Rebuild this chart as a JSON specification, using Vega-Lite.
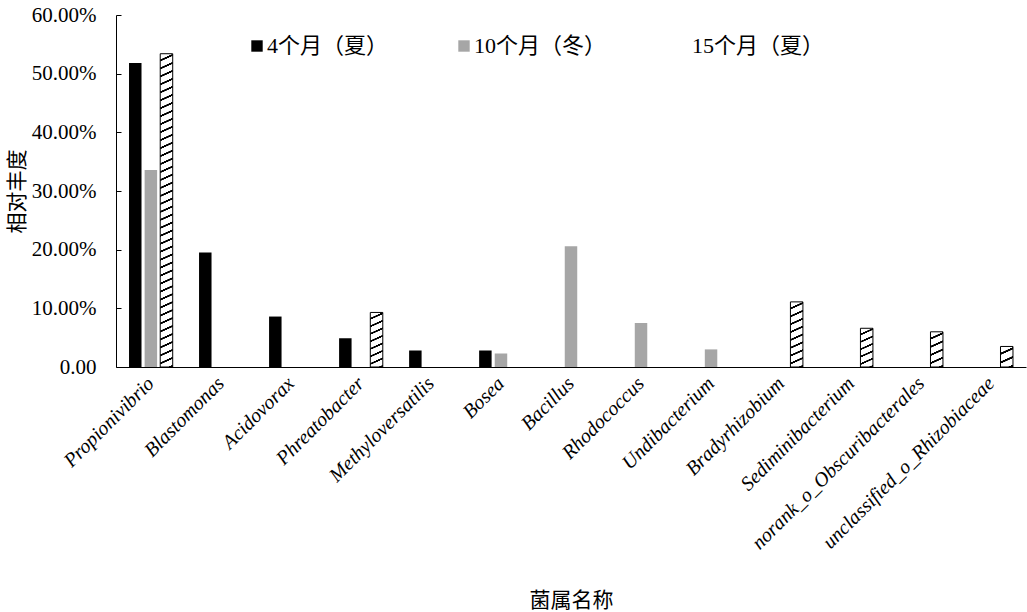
{
"$schema": "https://vega.github.io/schema/vega-lite/v6.json",
"width": 910,
"height": 352,
"autosize": {"type": "none"},
"padding": {"left": 116, "top": 15, "right": 1, "bottom": 245},
"background": "white",
"config": {"view": {"stroke": null}},
"data": {"values": [
{"genus":"Propionivibrio","series":"4个月（夏）","value":0.518},
{"genus":"Propionivibrio","series":"10个月（冬）","value":0.336},
{"genus":"Propionivibrio","series":"15个月（夏）","value":0.534},
{"genus":"Blastomonas","series":"4个月（夏）","value":0.195},
{"genus":"Acidovorax","series":"4个月（夏）","value":0.086},
{"genus":"Phreatobacter","series":"4个月（夏）","value":0.049},
{"genus":"Phreatobacter","series":"15个月（夏）","value":0.093},
{"genus":"Methyloversatilis","series":"4个月（夏）","value":0.028},
{"genus":"Bosea","series":"4个月（夏）","value":0.028},
{"genus":"Bosea","series":"10个月（冬）","value":0.023},
{"genus":"Bacillus","series":"10个月（冬）","value":0.206},
{"genus":"Rhodococcus","series":"10个月（冬）","value":0.075},
{"genus":"Undibacterium","series":"10个月（冬）","value":0.030},
{"genus":"Bradyrhizobium","series":"15个月（夏）","value":0.111},
{"genus":"Sediminibacterium","series":"15个月（夏）","value":0.066},
{"genus":"norank_o_Obscuribacterales","series":"15个月（夏）","value":0.060},
{"genus":"unclassified_o_Rhizobiaceae","series":"15个月（夏）","value":0.035}
]},
"mark": {"type": "bar", "strokeWidth": 1},
"encoding": {
"x": {"field": "genus", "type": "nominal",
 "scale": {"domain": ["Propionivibrio","Blastomonas","Acidovorax","Phreatobacter","Methyloversatilis","Bosea","Bacillus","Rhodococcus","Undibacterium","Bradyrhizobium","Sediminibacterium","norank_o_Obscuribacterales","unclassified_o_Rhizobiaceae"], "paddingInner": 0.376, "paddingOuter": 0.186},
 "axis": {"labelAngle": -45, "labelFont": "Liberation Serif", "labelFontStyle": "italic", "labelFontSize": 20, "labelColor": "#000", "labelLimit": 400, "labelPadding": 6, "labelOffset": -7, "ticks": false, "domainColor": "#000", "domainWidth": 1, "grid": false,
  "title": "菌属名称", "titleFont": "Noto Sans CJK SC", "titleFontSize": 21, "titleFontWeight": "normal", "titleColor": "#000", "titleY": 233, "titleBaseline": "middle"}},
"xOffset": {"field": "series", "type": "nominal", "scale": {"domain": ["4个月（夏）","10个月（冬）","15个月（夏）"], "paddingInner": 0.2, "paddingOuter": 0}},
"y": {"field": "value", "type": "quantitative", "scale": {"domain": [0, 0.6], "nice": false},
 "axis": {"values": [0,0.1,0.2,0.3,0.4,0.5,0.6], "labelExpr": "datum.value === 0 ? '0.00' : format(datum.value, '.2%')", "labelFont": "Liberation Serif", "labelFontSize": 21, "labelColor": "#000", "labelPadding": 25, "tickSize": -5, "tickColor": "#000", "domainColor": "#000", "grid": false,
  "title": "相对丰度", "titleFont": "Noto Sans CJK SC", "titleFontSize": 21, "titleFontWeight": "normal", "titleColor": "#000", "titlePadding": 4}},
"fill": {
 "condition": [
  {"test": "datum.series === '15个月（夏）' && datum.genus === 'Propionivibrio'", "value": {"gradient": "linear", "x1": 0, "y1": 0, "x2": 0.01824, "y2": 1.01761, "stops": [
{"offset":0.0175,"color":"#fff"},{"offset":0.01875,"color":"#000"},{"offset":0.02375,"color":"#000"},{"offset":0.025,"color":"#fff"},
{"offset":0.0425,"color":"#fff"},{"offset":0.04375,"color":"#000"},{"offset":0.04875,"color":"#000"},{"offset":0.05,"color":"#fff"},
{"offset":0.0675,"color":"#fff"},{"offset":0.06875,"color":"#000"},{"offset":0.07375,"color":"#000"},{"offset":0.075,"color":"#fff"},
{"offset":0.0925,"color":"#fff"},{"offset":0.09375,"color":"#000"},{"offset":0.09875,"color":"#000"},{"offset":0.1,"color":"#fff"},
{"offset":0.1175,"color":"#fff"},{"offset":0.11875,"color":"#000"},{"offset":0.12375,"color":"#000"},{"offset":0.125,"color":"#fff"},
{"offset":0.1425,"color":"#fff"},{"offset":0.14375,"color":"#000"},{"offset":0.14875,"color":"#000"},{"offset":0.15,"color":"#fff"},
{"offset":0.1675,"color":"#fff"},{"offset":0.16875,"color":"#000"},{"offset":0.17375,"color":"#000"},{"offset":0.175,"color":"#fff"},
{"offset":0.1925,"color":"#fff"},{"offset":0.19375,"color":"#000"},{"offset":0.19875,"color":"#000"},{"offset":0.2,"color":"#fff"},
{"offset":0.2175,"color":"#fff"},{"offset":0.21875,"color":"#000"},{"offset":0.22375,"color":"#000"},{"offset":0.225,"color":"#fff"},
{"offset":0.2425,"color":"#fff"},{"offset":0.24375,"color":"#000"},{"offset":0.24875,"color":"#000"},{"offset":0.25,"color":"#fff"},
{"offset":0.2675,"color":"#fff"},{"offset":0.26875,"color":"#000"},{"offset":0.27375,"color":"#000"},{"offset":0.275,"color":"#fff"},
{"offset":0.2925,"color":"#fff"},{"offset":0.29375,"color":"#000"},{"offset":0.29875,"color":"#000"},{"offset":0.3,"color":"#fff"},
{"offset":0.3175,"color":"#fff"},{"offset":0.31875,"color":"#000"},{"offset":0.32375,"color":"#000"},{"offset":0.325,"color":"#fff"},
{"offset":0.3425,"color":"#fff"},{"offset":0.34375,"color":"#000"},{"offset":0.34875,"color":"#000"},{"offset":0.35,"color":"#fff"},
{"offset":0.3675,"color":"#fff"},{"offset":0.36875,"color":"#000"},{"offset":0.37375,"color":"#000"},{"offset":0.375,"color":"#fff"},
{"offset":0.3925,"color":"#fff"},{"offset":0.39375,"color":"#000"},{"offset":0.39875,"color":"#000"},{"offset":0.4,"color":"#fff"},
{"offset":0.4175,"color":"#fff"},{"offset":0.41875,"color":"#000"},{"offset":0.42375,"color":"#000"},{"offset":0.425,"color":"#fff"},
{"offset":0.4425,"color":"#fff"},{"offset":0.44375,"color":"#000"},{"offset":0.44875,"color":"#000"},{"offset":0.45,"color":"#fff"},
{"offset":0.4675,"color":"#fff"},{"offset":0.46875,"color":"#000"},{"offset":0.47375,"color":"#000"},{"offset":0.475,"color":"#fff"},
{"offset":0.4925,"color":"#fff"},{"offset":0.49375,"color":"#000"},{"offset":0.49875,"color":"#000"},{"offset":0.5,"color":"#fff"},
{"offset":0.5175,"color":"#fff"},{"offset":0.51875,"color":"#000"},{"offset":0.52375,"color":"#000"},{"offset":0.525,"color":"#fff"},
{"offset":0.5425,"color":"#fff"},{"offset":0.54375,"color":"#000"},{"offset":0.54875,"color":"#000"},{"offset":0.55,"color":"#fff"},
{"offset":0.5675,"color":"#fff"},{"offset":0.56875,"color":"#000"},{"offset":0.57375,"color":"#000"},{"offset":0.575,"color":"#fff"},
{"offset":0.5925,"color":"#fff"},{"offset":0.59375,"color":"#000"},{"offset":0.59875,"color":"#000"},{"offset":0.6,"color":"#fff"},
{"offset":0.6175,"color":"#fff"},{"offset":0.61875,"color":"#000"},{"offset":0.62375,"color":"#000"},{"offset":0.625,"color":"#fff"},
{"offset":0.6425,"color":"#fff"},{"offset":0.64375,"color":"#000"},{"offset":0.64875,"color":"#000"},{"offset":0.65,"color":"#fff"},
{"offset":0.6675,"color":"#fff"},{"offset":0.66875,"color":"#000"},{"offset":0.67375,"color":"#000"},{"offset":0.675,"color":"#fff"},
{"offset":0.6925,"color":"#fff"},{"offset":0.69375,"color":"#000"},{"offset":0.69875,"color":"#000"},{"offset":0.7,"color":"#fff"},
{"offset":0.7175,"color":"#fff"},{"offset":0.71875,"color":"#000"},{"offset":0.72375,"color":"#000"},{"offset":0.725,"color":"#fff"},
{"offset":0.7425,"color":"#fff"},{"offset":0.74375,"color":"#000"},{"offset":0.74875,"color":"#000"},{"offset":0.75,"color":"#fff"},
{"offset":0.7675,"color":"#fff"},{"offset":0.76875,"color":"#000"},{"offset":0.77375,"color":"#000"},{"offset":0.775,"color":"#fff"},
{"offset":0.7925,"color":"#fff"},{"offset":0.79375,"color":"#000"},{"offset":0.79875,"color":"#000"},{"offset":0.8,"color":"#fff"},
{"offset":0.8175,"color":"#fff"},{"offset":0.81875,"color":"#000"},{"offset":0.82375,"color":"#000"},{"offset":0.825,"color":"#fff"},
{"offset":0.8425,"color":"#fff"},{"offset":0.84375,"color":"#000"},{"offset":0.84875,"color":"#000"},{"offset":0.85,"color":"#fff"},
{"offset":0.8675,"color":"#fff"},{"offset":0.86875,"color":"#000"},{"offset":0.87375,"color":"#000"},{"offset":0.875,"color":"#fff"},
{"offset":0.8925,"color":"#fff"},{"offset":0.89375,"color":"#000"},{"offset":0.89875,"color":"#000"},{"offset":0.9,"color":"#fff"},
{"offset":0.9175,"color":"#fff"},{"offset":0.91875,"color":"#000"},{"offset":0.92375,"color":"#000"},{"offset":0.925,"color":"#fff"},
{"offset":0.9425,"color":"#fff"},{"offset":0.94375,"color":"#000"},{"offset":0.94875,"color":"#000"},{"offset":0.95,"color":"#fff"},
{"offset":0.9675,"color":"#fff"},{"offset":0.96875,"color":"#000"},{"offset":0.97375,"color":"#000"},{"offset":0.975,"color":"#fff"},
{"offset":0.9925,"color":"#fff"},{"offset":0.99375,"color":"#000"},{"offset":0.99875,"color":"#000"},{"offset":1,"color":"#fff"}
  ]}},
  {"test": "datum.series === '15个月（夏）' && datum.genus === 'Phreatobacter'", "value": {"gradient": "linear", "x1": 0, "y1": 0, "x2": 0.11235, "y2": 1.09145, "stops": [
{"offset":0.0875,"color":"#fff"},{"offset":0.09375,"color":"#000"},{"offset":0.11875,"color":"#000"},{"offset":0.125,"color":"#fff"},
{"offset":0.2125,"color":"#fff"},{"offset":0.21875,"color":"#000"},{"offset":0.24375,"color":"#000"},{"offset":0.25,"color":"#fff"},
{"offset":0.3375,"color":"#fff"},{"offset":0.34375,"color":"#000"},{"offset":0.36875,"color":"#000"},{"offset":0.375,"color":"#fff"},
{"offset":0.4625,"color":"#fff"},{"offset":0.46875,"color":"#000"},{"offset":0.49375,"color":"#000"},{"offset":0.5,"color":"#fff"},
{"offset":0.5875,"color":"#fff"},{"offset":0.59375,"color":"#000"},{"offset":0.61875,"color":"#000"},{"offset":0.625,"color":"#fff"},
{"offset":0.7125,"color":"#fff"},{"offset":0.71875,"color":"#000"},{"offset":0.74375,"color":"#000"},{"offset":0.75,"color":"#fff"},
{"offset":0.8375,"color":"#fff"},{"offset":0.84375,"color":"#000"},{"offset":0.86875,"color":"#000"},{"offset":0.875,"color":"#fff"},
{"offset":0.9625,"color":"#fff"},{"offset":0.96875,"color":"#000"},{"offset":0.99375,"color":"#000"},{"offset":1,"color":"#fff"}
  ]}},
  {"test": "datum.series === '15个月（夏）' && datum.genus === 'Bradyrhizobium'", "value": {"gradient": "linear", "x1": 0, "y1": 0, "x2": 0.09299, "y2": 1.0783, "stops": [
{"offset":0.07778,"color":"#fff"},{"offset":0.08333,"color":"#000"},{"offset":0.10556,"color":"#000"},{"offset":0.11111,"color":"#fff"},
{"offset":0.18889,"color":"#fff"},{"offset":0.19444,"color":"#000"},{"offset":0.21667,"color":"#000"},{"offset":0.22222,"color":"#fff"},
{"offset":0.3,"color":"#fff"},{"offset":0.30556,"color":"#000"},{"offset":0.32778,"color":"#000"},{"offset":0.33333,"color":"#fff"},
{"offset":0.41111,"color":"#fff"},{"offset":0.41667,"color":"#000"},{"offset":0.43889,"color":"#000"},{"offset":0.44444,"color":"#fff"},
{"offset":0.52222,"color":"#fff"},{"offset":0.52778,"color":"#000"},{"offset":0.55,"color":"#000"},{"offset":0.55556,"color":"#fff"},
{"offset":0.63333,"color":"#fff"},{"offset":0.63889,"color":"#000"},{"offset":0.66111,"color":"#000"},{"offset":0.66667,"color":"#fff"},
{"offset":0.74444,"color":"#fff"},{"offset":0.75,"color":"#000"},{"offset":0.77222,"color":"#000"},{"offset":0.77778,"color":"#fff"},
{"offset":0.85556,"color":"#fff"},{"offset":0.86111,"color":"#000"},{"offset":0.88333,"color":"#000"},{"offset":0.88889,"color":"#fff"},
{"offset":0.96667,"color":"#fff"},{"offset":0.97222,"color":"#000"},{"offset":0.99444,"color":"#000"},{"offset":1,"color":"#fff"}
  ]}},
  {"test": "datum.series === '15个月（夏）' && datum.genus === 'Sediminibacterium'", "value": {"gradient": "linear", "x1": 0, "y1": 0, "x2": 0.16268, "y2": 1.1216, "stops": [
{"offset":0.11667,"color":"#fff"},{"offset":0.125,"color":"#000"},{"offset":0.15833,"color":"#000"},{"offset":0.16667,"color":"#fff"},
{"offset":0.28333,"color":"#fff"},{"offset":0.29167,"color":"#000"},{"offset":0.325,"color":"#000"},{"offset":0.33333,"color":"#fff"},
{"offset":0.45,"color":"#fff"},{"offset":0.45833,"color":"#000"},{"offset":0.49167,"color":"#000"},{"offset":0.5,"color":"#fff"},
{"offset":0.61667,"color":"#fff"},{"offset":0.625,"color":"#000"},{"offset":0.65833,"color":"#000"},{"offset":0.66667,"color":"#fff"},
{"offset":0.78333,"color":"#fff"},{"offset":0.79167,"color":"#000"},{"offset":0.825,"color":"#000"},{"offset":0.83333,"color":"#fff"},
{"offset":0.95,"color":"#fff"},{"offset":0.95833,"color":"#000"},{"offset":0.99167,"color":"#000"},{"offset":1,"color":"#fff"}
  ]}},
  {"test": "datum.series === '15个月（夏）' && datum.genus === 'norank_o_Obscuribacterales'", "value": {"gradient": "linear", "x1": 0, "y1": 0, "x2": 0.18043, "y2": 1.1309, "stops": [
{"offset":0.14,"color":"#fff"},{"offset":0.15,"color":"#000"},{"offset":0.19,"color":"#000"},{"offset":0.2,"color":"#fff"},
{"offset":0.34,"color":"#fff"},{"offset":0.35,"color":"#000"},{"offset":0.39,"color":"#000"},{"offset":0.4,"color":"#fff"},
{"offset":0.54,"color":"#fff"},{"offset":0.55,"color":"#000"},{"offset":0.59,"color":"#000"},{"offset":0.6,"color":"#fff"},
{"offset":0.74,"color":"#fff"},{"offset":0.75,"color":"#000"},{"offset":0.79,"color":"#000"},{"offset":0.8,"color":"#fff"},
{"offset":0.94,"color":"#fff"},{"offset":0.95,"color":"#000"},{"offset":0.99,"color":"#000"},{"offset":1,"color":"#fff"}
  ]}},
  {"test": "datum.series === '15个月（夏）' && datum.genus === 'unclassified_o_Rhizobiaceae'", "value": {"gradient": "linear", "x1": 0, "y1": 0, "x2": 0.3242, "y2": 1.1852, "stops": [
{"offset":0.23333,"color":"#fff"},{"offset":0.25,"color":"#000"},{"offset":0.31667,"color":"#000"},{"offset":0.33333,"color":"#fff"},
{"offset":0.56667,"color":"#fff"},{"offset":0.58333,"color":"#000"},{"offset":0.65,"color":"#000"},{"offset":0.66667,"color":"#fff"},
{"offset":0.9,"color":"#fff"},{"offset":0.91667,"color":"#000"},{"offset":0.98333,"color":"#000"},{"offset":1,"color":"#fff"}
  ]}}
 ],
 "field": "series", "type": "nominal",
 "scale": {"domain": ["4个月（夏）","10个月（冬）","15个月（夏）"], "range": ["#000000","#a6a6a6","#ffffff"]},
 "legend": {"title": null, "orient": "none", "legendX": 130, "legendY": 20, "direction": "horizontal", "symbolType": "square", "symbolSize": 130, "symbolStrokeWidth": 1,
  "labelFont": "'Liberation Serif', 'Noto Sans CJK SC'", "labelFontSize": 22, "labelColor": "#000", "labelOffset": -1, "labelLimit": 300, "columnPadding": 64, "padding": 0,
  "encode": {"symbols": {
   "stroke": {"value": {"expr": "datum.value === '15个月（夏）' ? '#000000' : 'transparent'"}},
   "strokeWidth": {"value": 1}}}}
},
"stroke": {"condition": {"test": "datum.series === '15个月（夏）'", "value": "#000000"}, "value": "transparent"}
}
}
